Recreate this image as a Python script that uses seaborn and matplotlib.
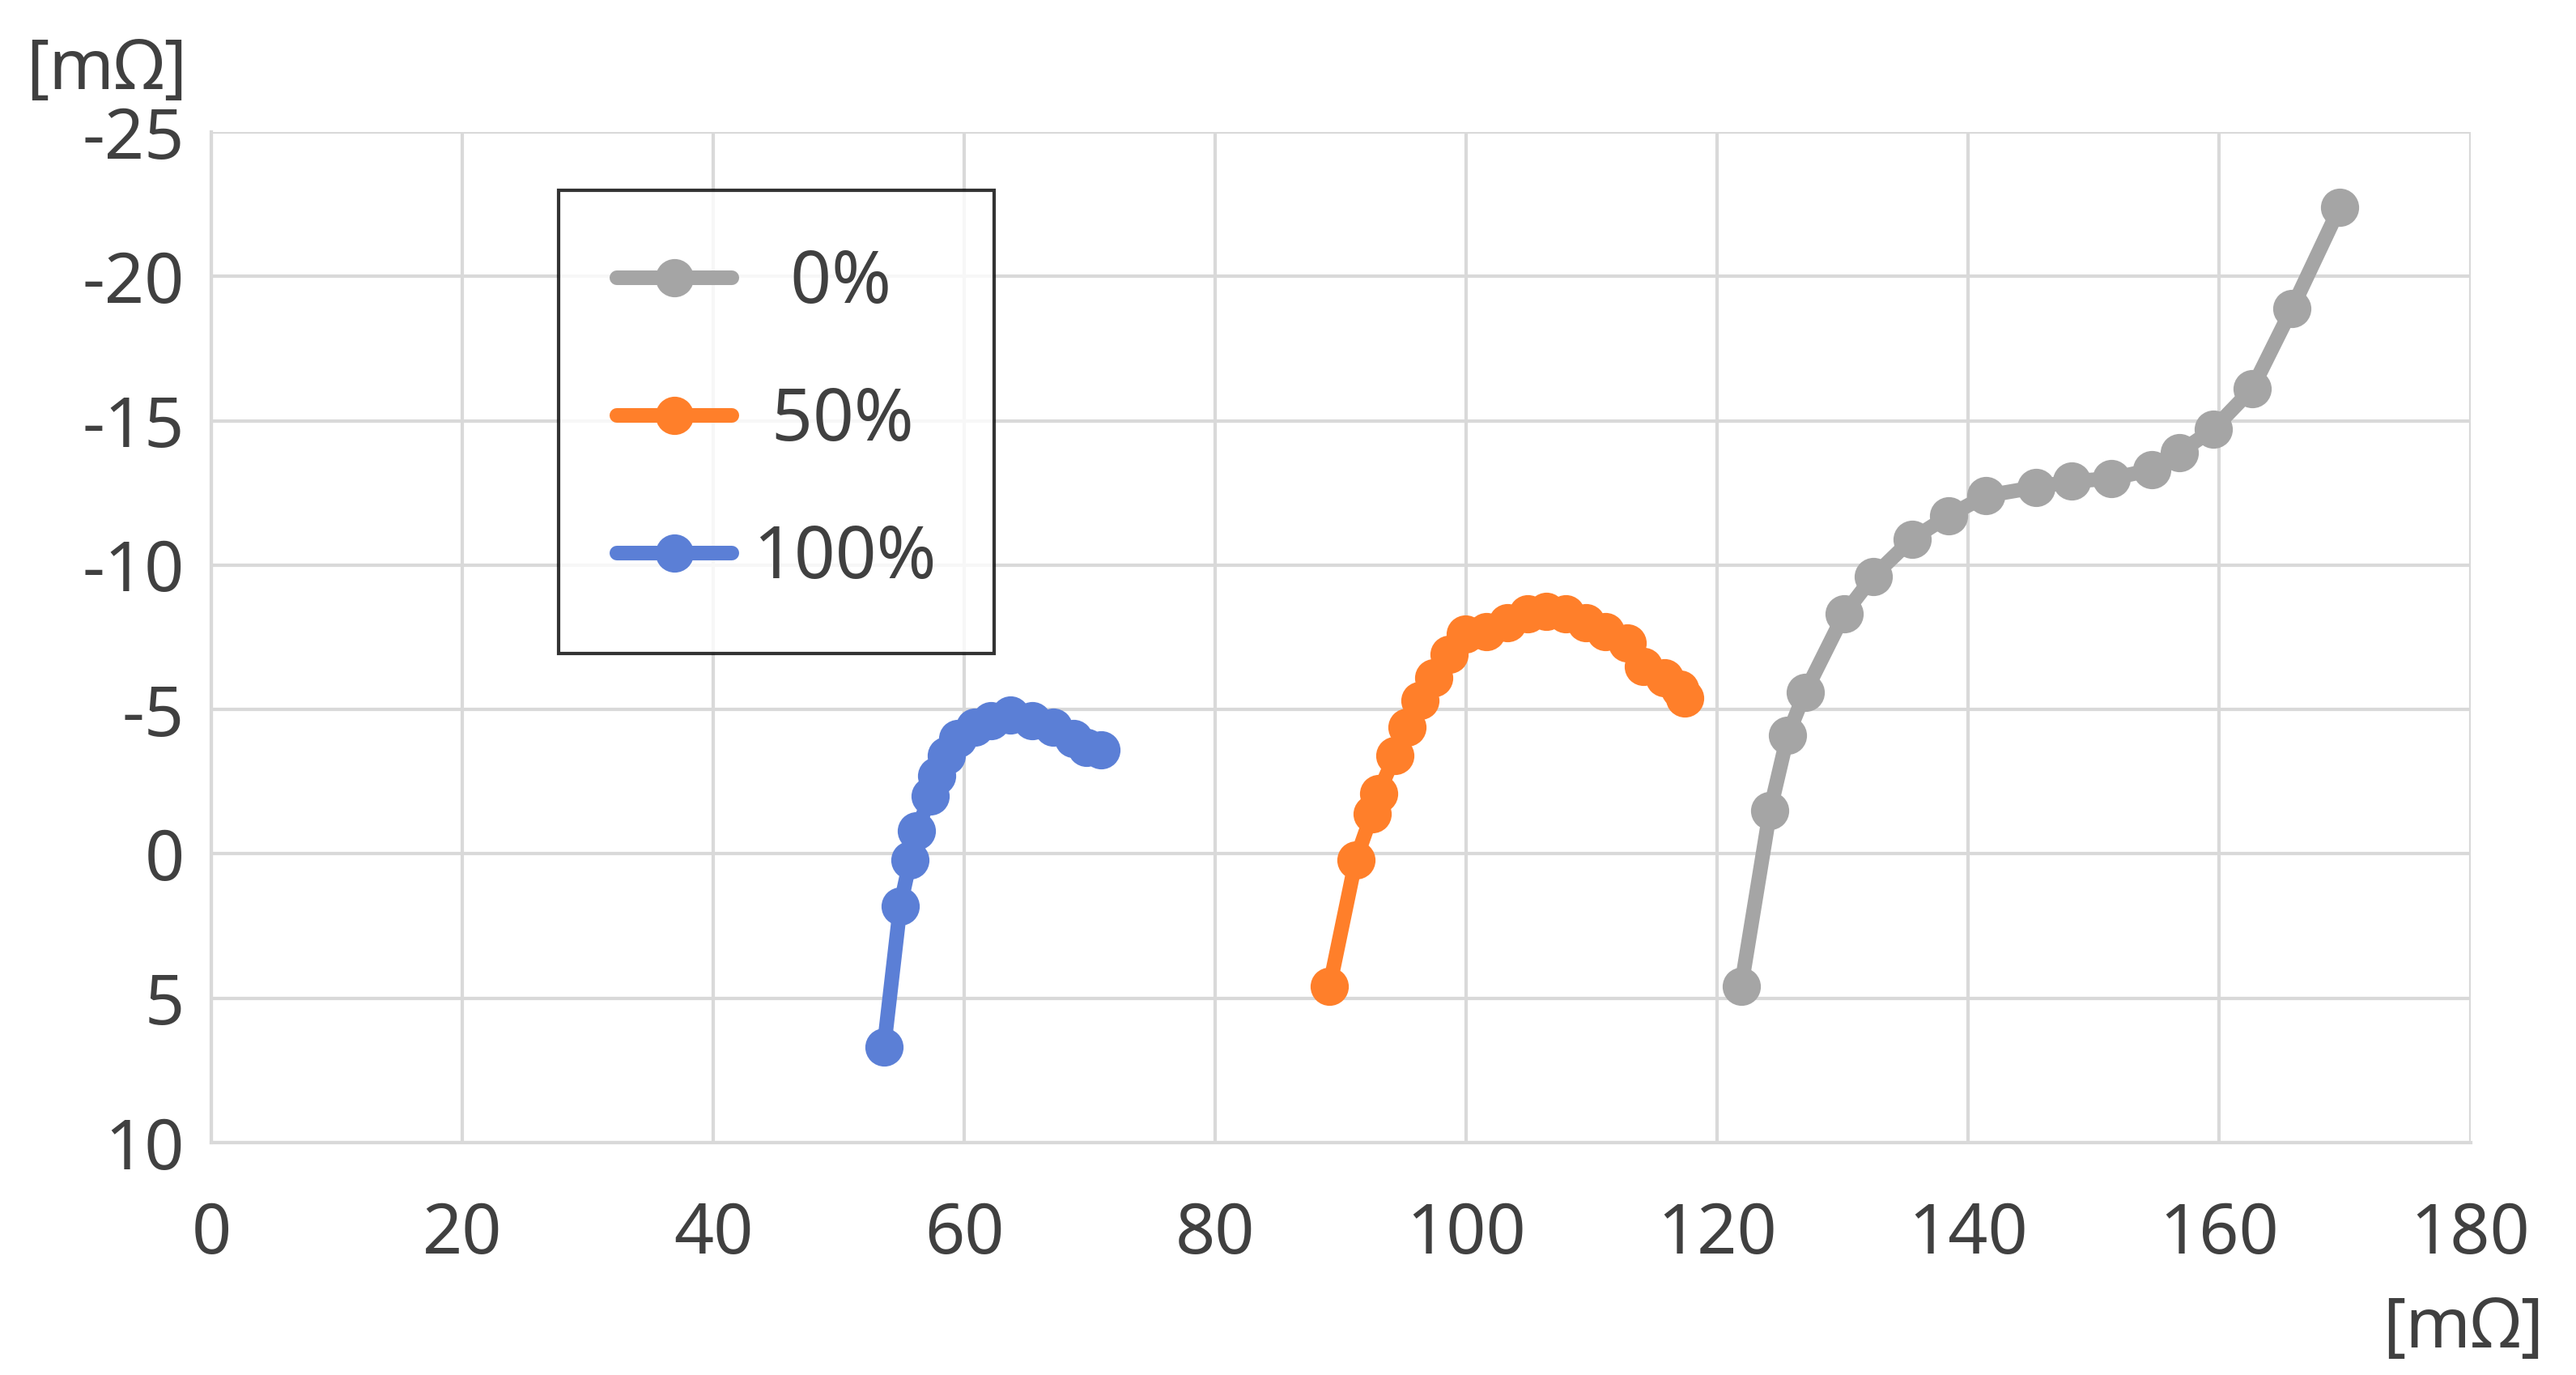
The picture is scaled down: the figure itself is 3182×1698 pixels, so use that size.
import pandas as pd
import matplotlib
matplotlib.use("Agg")
import matplotlib.pyplot as plt
import seaborn as sns

# Nyquist data (Re, Im) in mOhm
re_0 = [121.9, 124.2, 125.6, 127.0, 130.1, 132.4, 135.5, 138.4, 141.4, 145.4,
        148.2, 151.4, 154.6, 156.8, 159.5, 162.6, 165.8, 169.6]
im_0 = [4.6, -1.5, -4.1, -5.6, -8.3, -9.6, -10.9, -11.7, -12.4, -12.7,
        -12.9, -13.0, -13.3, -13.9, -14.7, -16.1, -18.9, -22.4]

re_50 = [89.1, 91.2, 92.5, 93.0, 94.3, 95.3, 96.3, 97.4, 98.6, 99.9, 101.6,
         103.3, 104.9, 106.4, 107.9, 109.5, 111.1, 112.8, 114.1, 115.8, 117.0, 117.4]
im_50 = [4.6, 0.2, -1.4, -2.1, -3.4, -4.4, -5.3, -6.1, -6.9, -7.6, -7.7,
         -8.0, -8.3, -8.4, -8.3, -8.0, -7.7, -7.3, -6.5, -6.1, -5.7, -5.4]

re_100 = [53.6, 54.9, 55.7, 56.2, 57.3, 57.8, 58.6, 59.5, 60.8, 62.1, 63.7,
          65.4, 67.1, 68.7, 69.7, 70.9]
im_100 = [6.7, 1.8, 0.2, -0.8, -2.0, -2.7, -3.4, -4.0, -4.4, -4.6, -4.8,
          -4.6, -4.4, -4.0, -3.7, -3.6]

labels = ["  0%", " 50%", "100%"]
colors = ["#a5a5a5", "#ff7f2a", "#5b7fd6"]

frames = []
for lab, xs, ys in zip(labels, [re_0, re_50, re_100], [im_0, im_50, im_100]):
    frames.append(pd.DataFrame({"re": xs, "im": ys, "soc": lab}))
df = pd.concat(frames, ignore_index=True)

sns.set_theme(style="whitegrid")
plt.rcParams['font.family'] = ['Noto Sans', 'DejaVu Sans']
plt.rcParams['axes.unicode_minus'] = False

fig = plt.figure(figsize=(15.91, 8.49), dpi=200)
ax = fig.add_axes([0.082, 0.169, 0.877, 0.735])

sns.lineplot(data=df, x="re", y="im", hue="soc", palette=colors, sort=False,
             estimator=None, marker="o", markersize=17, markeredgewidth=0,
             linewidth=6.5, ax=ax)

ax.set_xlim(0, 180)
ax.set_ylim(10, -25)
ax.set_xticks(range(0, 181, 20))
ax.set_yticks(range(-25, 11, 5))
ax.tick_params(labelsize=31, colors="#404040", length=0)
ax.tick_params(axis="x", pad=26)
ax.tick_params(axis="y", pad=12)
ax.grid(True, color="#d9d9d9", linewidth=1.5)
for side in ["top", "right"]:
    ax.spines[side].set_visible(False)
for side in ["left", "bottom"]:
    ax.spines[side].set_color("#d9d9d9")
    ax.spines[side].set_linewidth(1.5)
ax.set_xlabel("")
ax.set_ylabel("")

fig.text(0.010, 0.935, "[mΩ]", fontsize=31, color="#404040")
fig.text(0.925, 0.02, "[mΩ]", fontsize=31, color="#404040")

leg = ax.legend(title=None, loc="upper left", bbox_to_anchor=(0.138, 0.978),
                fontsize=32, frameon=True, fancybox=False, edgecolor="black",
                borderpad=0.8, labelspacing=0.9, handlelength=1.6, handletextpad=0.3)
leg.get_frame().set_linewidth(1.5)
for t in leg.get_texts():
    t.set_color("#404040")

fig.savefig("out.png", dpi=200)
